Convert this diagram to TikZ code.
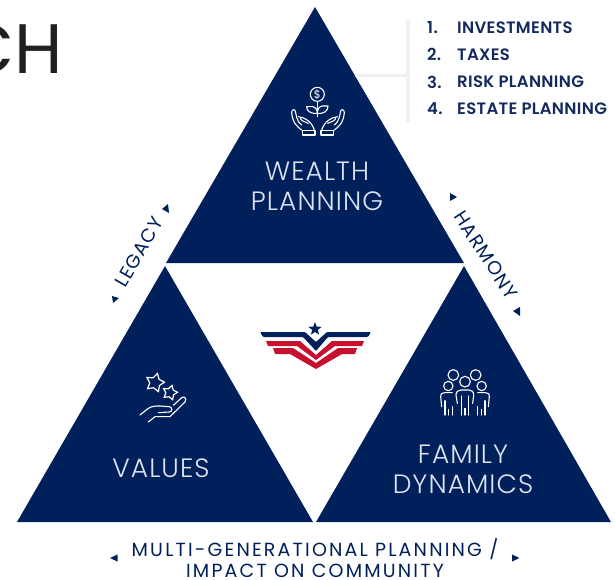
\documentclass[tikz,border=0pt]{standalone}
\usepackage{fontspec}
\setmainfont{Poppins}
\newfontfamily\headf{Poppins}
\newfontfamily\lightsp{Poppins}[UprightFont=* Light,LetterSpace=4]
\newfontfamily\regsp{Poppins}[LetterSpace=6]
\newfontfamily\medf{Poppins}[LetterSpace=11.5]
\newfontfamily\semif{Poppins}[UprightFont=* SemiBold,LetterSpace=2]
\usetikzlibrary{shapes.geometric}
\definecolor{navy}{HTML}{00205B}
\definecolor{listnavy}{HTML}{14295C}
\definecolor{pale}{HTML}{DDE3F0}
\definecolor{crimson}{HTML}{C8102E}
\definecolor{rulegrey}{HTML}{EFF1F5}
\definecolor{headink}{HTML}{231F20}
\tikzset{
  tri/.style={fill=navy,draw=none},
  title/.style={text=pale,font=\lightsp\fontsize{26.5}{26.5}\selectfont,inner sep=0pt,align=center},
  side/.style={text=navy,font=\regsp\fontsize{19}{19}\selectfont,inner sep=0pt},
  foot/.style={text=navy,font=\medf\fontsize{19}{19}\selectfont,inner sep=0pt},
  item/.style={text=listnavy,font=\semif\fontsize{16.5}{16.5}\selectfont,inner sep=0pt,anchor=west},
  ico/.style={draw=white,line width=1.1pt,line cap=round,line join=round,fill=none},
  zoomscope/.style={x=0.3333pt,y=-0.3333pt},
}
\begin{document}
\begin{tikzpicture}[x=1pt,y=-1pt]
\useasboundingbox (0,0) rectangle (615,579);
\clip (0,0) rectangle (615,579);
% big cropped heading
\node[anchor=base east,inner sep=0pt,text=headink,font=\headf\fontsize{70}{70}\selectfont] (head) at (63,73) {CH};
% triangles
\fill[tri] (315,7) coordinate (wt) -- (464,263) coordinate (wr) -- (166,263) coordinate (wl) -- cycle;
\fill[tri] (165,266) -- (313,522) -- (17,522) -- cycle;
\fill[tri] (464,266) -- (611,522) -- (316,522) -- cycle;
% list with rule
\coordinate (joint) at (407,75);
\coordinate (tip) at (355,75);
\fill[rulegrey] (405.5,20) rectangle (410,122);
\draw[rulegrey,line width=3pt] (tip) -- (joint);
\node[item] (n1) at (427,27.5) {1.};
\node[item] (n2) at (427,54.5) {2.};
\node[item] (n3) at (427,82) {3.};
\node[item] (n4) at (427,109) {4.};
\node[item] (i1) at (457,27.5) {INVESTMENTS};
\node[item] (i2) at (457,54.5) {TAXES};
\node[item] (i3) at (457,82) {RISK PLANNING};
\node[item] (i4) at (457,109) {ESTATE PLANNING};
% titles
\node[title] (wealth) at (317,186) {WEALTH\\[3.5pt]PLANNING};
\node[title] (values) at (161,468) {VALUES};
\node[title] (family) at (463,469) {FAMILY\\[3.5pt]DYNAMICS};
% side labels
\node[side,rotate=60] (legacy) at (139,252) {LEGACY};
\node[side,rotate=-57] (harmony) at (486,255) {HARMONY};
\node[foot] (foot1) at (315,549) {MULTI-GENERATIONAL PLANNING /};
\node[foot] (foot2) at (315,570.5) {IMPACT ON COMMUNITY};
% markers
\fill[navy] (162,209) -- (168,204) -- (169,213) -- cycle;
\fill[navy] (112,296) -- (119,298) -- (113,303) -- cycle;
\fill[navy] (450,193) -- (457,197) -- (450,201) -- cycle;
\fill[navy] (513,311) -- (520,307) -- (520,316) -- cycle;
\fill[navy] (110,558) -- (117.5,554.5) -- (117.5,561.5) -- cycle;
\fill[navy] (519.5,558) -- (512,554.5) -- (512,561.5) -- cycle;
% wealth icon
\begin{scope}[shift={(260,80)},zoomscope]
\draw[ico] (172,43) circle (21);
\node[text=white,inner sep=0pt,font=\fontsize{11}{11}\selectfont] (dollar) at (172,43) {\$};
\draw[ico] (172,64) -- (172,110);
\draw[ico] (172,100) .. controls (150,102) and (140,92) .. (140,80) -- (158,80) .. controls (168,82) and (172,90) .. (172,100);
\draw[ico] (172,100) .. controls (194,102) and (204,92) .. (204,78) -- (186,78) .. controls (176,80) and (172,90) .. (172,100);
\foreach \m/\o in {1/0,-1/348}{
\begin{scope}[xshift=\o*0.3333pt,x=\m*0.3333pt]
\draw[ico] (125,150) .. controls (105,135) and (98,125) .. (95,98) .. controls (95,86) and (107,86) .. (107,98) -- (110,112) .. controls (112,122) and (118,130) .. (125,135);
\draw[ico] (115,110) .. controls (135,112) and (155,125) .. (163,150);
\draw[ico] (122,112) .. controls (118,122) and (135,125) .. (145,130);
\draw[ico] (127,152) -- (165,152) -- (165,165) -- (127,165) -- cycle;
\end{scope}}
\end{scope}
% values icon
\begin{scope}[shift={(120,360)},zoomscope]
\node[star,star points=5,star point ratio=1.8,draw=white,line width=1.2pt,minimum size=19pt,inner sep=0pt,rotate=-15] (star1) at (105,68) {};
\node[star,star points=5,star point ratio=1.8,draw=white,line width=1.2pt,minimum size=15pt,inner sep=0pt,rotate=-15] (star2) at (150,98) {};
\draw[ico] (60,165) -- (85,145) .. controls (95,138) and (110,138) .. (120,138) -- (148,140) .. controls (158,142) and (158,155) .. (148,156) -- (115,158);
\draw[ico] (85,186) -- (105,170) -- (150,170) -- (195,126) .. controls (202,116) and (192,106) .. (184,114) -- (160,136);
\end{scope}
% family icon
\begin{scope}[shift={(425,360)},zoomscope]
\foreach \x/\y/\r in {85/45/16,152/45/16,70/78/14,170/78/14,120/65/16}{\draw[ico] (\x,\y) circle (\r);}
\draw[ico] (97,130) -- (93,105) .. controls (93,95) and (100,90) .. (108,90) -- (132,90) .. controls (140,90) and (146,95) .. (146,105) -- (143,130);
\draw[ico] (110,108) -- (110,165);
\draw[ico] (130,108) -- (130,165);
\draw[ico] (120,145) -- (120,165);
\draw[ico] (50,140) -- (47,110) .. controls (47,100) and (52,98) .. (60,98) -- (82,98);
\draw[ico] (190,140) -- (193,110) .. controls (193,100) and (188,98) .. (180,98) -- (158,98);
\draw[ico] (60,122) -- (60,165);
\draw[ico] (70,148) -- (70,165);
\draw[ico] (82,140) -- (82,165);
\draw[ico] (180,122) -- (180,165);
\draw[ico] (170,148) -- (170,165);
\draw[ico] (158,140) -- (158,165);
\end{scope}
% logo
\node[star,star points=5,star point ratio=2.4,fill=navy,minimum size=14pt,inner sep=0pt] (logostar) at (315,329) {};
\fill[navy,rounded corners=1pt] (260,332) -- (305,332) -- (316,342) -- (327,332) -- (371,332) -- (368,337) -- (328,337) -- (316,351) -- (303,337) -- (263,337) -- cycle;
\fill[crimson] (266,341) -- (300,341) -- (316,355) -- (332,341) -- (364,341) -- (362,346) -- (335,346) -- (316,360) -- (297,346) -- (268,346) -- cycle;
\fill[crimson] (273,348) -- (293,348) -- (316,363) -- (338,348) -- (357,348) -- (355,354) -- (342,354) -- (316,369) -- (290,354) -- (275,354) -- cycle;
\end{tikzpicture}
\end{document}
